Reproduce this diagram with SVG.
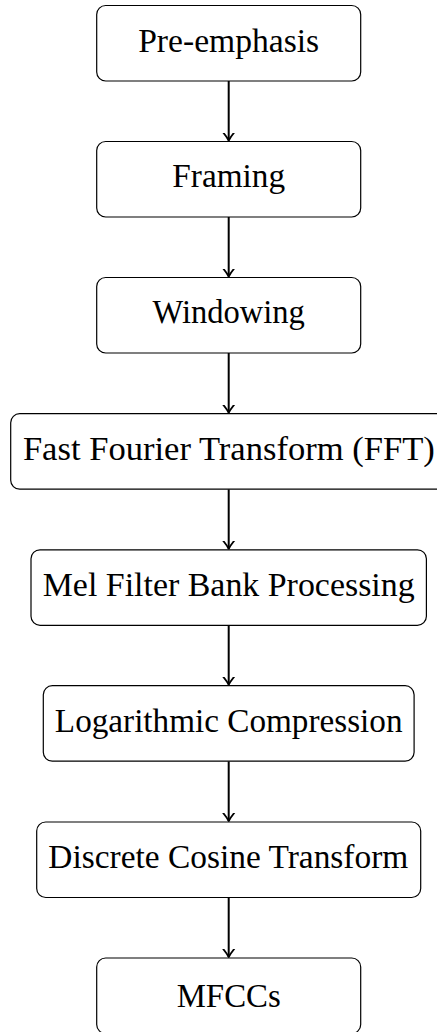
<svg xmlns="http://www.w3.org/2000/svg" width="437" height="1032" viewBox="0 0 437 1032">
<defs>
<style>
.box{fill:#fff;stroke:#000;stroke-width:1.2}
text{font-family:'Liberation Serif','Times New Roman',serif;font-size:34px;fill:#000;text-anchor:middle}
.arr{stroke:#000;stroke-width:2;fill:none}
</style>
<marker id="ah" markerUnits="userSpaceOnUse" markerWidth="16" markerHeight="16" viewBox="-8 -8 16 16" refX="0" refY="0" orient="auto">
<path d="M-8,-5.5 Q-3,-1.5 0,0 Q-3,1.5 -8,5.5" stroke="#000" stroke-width="1.8" fill="none" stroke-linecap="round" stroke-linejoin="round"/>
</marker>
</defs>
<rect width="437" height="1032" fill="#fff"/>
<g id="connectors">
<line class="arr" x1="228.7" y1="81" x2="228.7" y2="140.5" marker-end="url(#ah)"/>
<line class="arr" x1="228.7" y1="217" x2="228.7" y2="276.5" marker-end="url(#ah)"/>
<line class="arr" x1="228.7" y1="353" x2="228.7" y2="412.7" marker-end="url(#ah)"/>
<line class="arr" x1="228.7" y1="489.2" x2="228.7" y2="548.8" marker-end="url(#ah)"/>
<line class="arr" x1="228.7" y1="625.3" x2="228.7" y2="684.7" marker-end="url(#ah)"/>
<line class="arr" x1="228.7" y1="761.2" x2="228.7" y2="821" marker-end="url(#ah)"/>
<line class="arr" x1="228.7" y1="897.5" x2="228.7" y2="957" marker-end="url(#ah)"/>
</g>
<g id="n1"><rect class="box" x="96.7" y="5.5" width="264" height="75.5" rx="9"/><text x="228.7" y="51.7" textLength="181" lengthAdjust="spacingAndGlyphs">Pre-emphasis</text></g>
<g id="n2"><rect class="box" x="96.7" y="141.5" width="264" height="75.5" rx="9"/><text x="228.7" y="186.7" textLength="112.7" lengthAdjust="spacingAndGlyphs">Framing</text></g>
<g id="n3"><rect class="box" x="96.7" y="277.5" width="264" height="75.5" rx="9"/><text x="228.7" y="322.7" textLength="152.3" lengthAdjust="spacingAndGlyphs">Windowing</text></g>
<g id="n4"><rect class="box" x="10.7" y="413.7" width="436" height="75.5" rx="9"/><text x="228.9" y="460" textLength="412" lengthAdjust="spacingAndGlyphs">Fast Fourier Transform (FFT)</text></g>
<g id="n5"><rect class="box" x="31" y="549.8" width="395.4" height="75.5" rx="9"/><text x="228.7" y="596" textLength="372" lengthAdjust="spacingAndGlyphs">Mel Filter Bank Processing</text></g>
<g id="n6"><rect class="box" x="43.3" y="685.7" width="370.8" height="75.5" rx="9"/><text x="228.7" y="732" textLength="347.7" lengthAdjust="spacingAndGlyphs">Logarithmic Compression</text></g>
<g id="n7"><rect class="box" x="36.7" y="822" width="384" height="75.5" rx="9"/><text x="228.3" y="868" textLength="360" lengthAdjust="spacingAndGlyphs">Discrete Cosine Transform</text></g>
<g id="n8"><rect class="box" x="96.7" y="958" width="264" height="75.5" rx="9"/><text x="228.7" y="1006.7" textLength="104" lengthAdjust="spacingAndGlyphs">MFCCs</text></g>
</svg>
